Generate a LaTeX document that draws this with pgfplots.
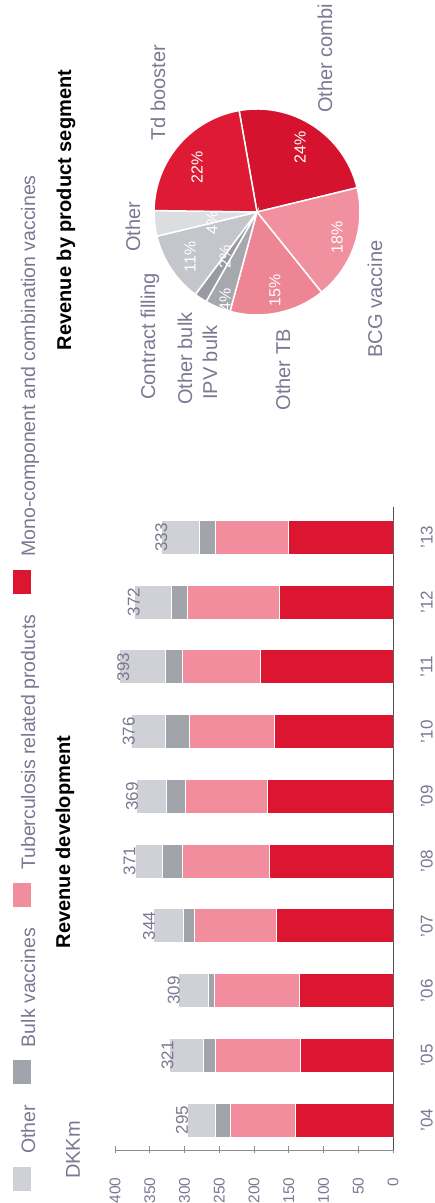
\documentclass[border=0pt]{standalone}
\usepackage{fontspec}
\setmainfont{Liberation Sans}
\usepackage{graphicx}
\usepackage{pgfplots}
\pgfplotsset{compat=1.18}
\usepackage{pgfplotstable}

\definecolor{cOther}{HTML}{D0D1D6}
\definecolor{cBulk}{HTML}{A2A4AB}
\definecolor{cTB}{HTML}{F28D9D}
\definecolor{cMono}{HTML}{DC1530}
\definecolor{labelc}{HTML}{7A7893}
% pie colours
\definecolor{pCombi}{HTML}{D5132E}
\definecolor{pTd}{HTML}{DE1A34}
\definecolor{pBCG}{HTML}{F1919F}
\definecolor{pOTB}{HTML}{EE8595}
\definecolor{pIPV}{HTML}{A7A8AE}
\definecolor{pOBulk}{HTML}{9A9BA2}
\definecolor{pFill}{HTML}{C5C6CB}
\definecolor{pOther}{HTML}{DCDDE1}

\newcommand\fs{\fontsize{20}{24}\selectfont}
\newcommand\fl{\fontsize{19.5}{23}\selectfont}
\newcommand\fn{\fontsize{17}{20}\selectfont}
\newcommand\ft{\fontsize{15.5}{18}\selectfont}
\newcommand\fp{\fontsize{16}{19}\selectfont}

% revenue, DKKm
\pgfplotstableread{
x mono tb  bulk other total
0 141  93  22   39    295
1 133  123 16   49    321
2 135  122 9    43    309
3 167  118 17   42    344
4 177  126 28   40    371
5 180  119 27   43    369
6 171  122 35   48    376
7 191  112 24   66    393
8 164  131 23   54    372
9 150  106 22   55    333
}\revenue

\begin{document}
\rotatebox{90}{%
\begin{tikzpicture}
\begin{axis}[
  at={(53pt,-393pt)}, anchor=south west,
  scale only axis, width=643pt, height=278pt,
  ybar stacked, bar width=34pt,
  xmin=-0.46, xmax=9.47, ymin=0, ymax=400,
  axis x line*=bottom, axis y line*=left,
  x axis line style={draw=black!70, line width=1pt},
  y axis line style={draw=black!45, line width=0.8pt},
  xtick=data,
  xticklabels={'04,'05,'06,'07,'08,'09,'10,'11,'12,'13},
  ytick={0,50,...,400},
  xtick style={draw=none},
  ytick style={draw=black!45, line width=0.8pt},
  tick align=center, major tick length=7pt,
  tick label style={text=labelc},
  xticklabel style={font=\fn, inner sep=0pt, yshift=-24pt},
  yticklabel style={font=\ft, inner sep=0pt, xshift=-24pt},
  /pgf/number format/assume math mode=true,
  reverse legend, legend columns=4,
  legend style={at={(-0.0653,1.3705)}, anchor=north west,
    draw=none, fill=none, inner sep=0pt, font=\fl, text=labelc,
    nodes={inner sep=0pt},
    /tikz/every odd column/.append style={column sep=12pt},
    /tikz/every even column/.append style={column sep=20pt}},
  legend image code/.code={\fill[#1] (0pt,-3pt) rectangle (25pt,16pt);},
]
\addplot[fill=cMono, draw=white, line width=1pt] table[x=x, y=mono]{\revenue};
\addlegendentry{Mono-component and combination vaccines}
\addplot[fill=cTB, draw=white, line width=1pt] table[x=x, y=tb]{\revenue};
\addlegendentry{Tuberculosis related products}
\addplot[fill=cBulk, draw=white, line width=1pt] table[x=x, y=bulk]{\revenue};
\addlegendentry{Bulk vaccines}
\addplot[fill=cOther, draw=white, line width=1pt,
  nodes near coords, point meta=\thisrow{total},
  nodes near coords style={font=\fn, text=labelc, anchor=south, inner sep=0pt, yshift=13pt}]
  table[x=x, y=other]{\revenue};
\addlegendentry{Other}
\end{axis}

% pie: shares in percent, clockwise from 10 degrees
\begin{axis}[
  at={(991pt,-257pt)}, anchor=center,
  hide axis, scale only axis, width=206pt, height=206pt,
  xmin=-1, xmax=1, ymin=-1, ymax=1, clip=false,
]
\fill[pCombi, draw=white, line width=1.5pt] (axis cs:0,0) -- ++(10:103pt) arc[start angle=10, end angle={10-3.6*24}, radius=103pt] -- cycle;
\fill[pBCG, draw=white, line width=1.5pt] (axis cs:0,0) -- ++({10-3.6*24}:103pt) arc[start angle={10-3.6*24}, end angle={10-3.6*42}, radius=103pt] -- cycle;
\fill[pOTB, draw=white, line width=1.5pt] (axis cs:0,0) -- ++({10-3.6*42}:103pt) arc[start angle={10-3.6*42}, end angle={10-3.6*57}, radius=103pt] -- cycle;
\fill[pIPV, draw=white, line width=1.5pt] (axis cs:0,0) -- ++({10-3.6*57}:103pt) arc[start angle={10-3.6*57}, end angle={10-3.6*61}, radius=103pt] -- cycle;
\fill[pOBulk, draw=white, line width=1.5pt] (axis cs:0,0) -- ++({10-3.6*61}:103pt) arc[start angle={10-3.6*61}, end angle={10-3.6*63}, radius=103pt] -- cycle;
\fill[pFill, draw=white, line width=1.5pt] (axis cs:0,0) -- ++({10-3.6*63}:103pt) arc[start angle={10-3.6*63}, end angle={10-3.6*74}, radius=103pt] -- cycle;
\fill[pOther, draw=white, line width=1.5pt] (axis cs:0,0) -- ++({10-3.6*74}:103pt) arc[start angle={10-3.6*74}, end angle={10-3.6*78}, radius=103pt] -- cycle;
\fill[pTd, draw=white, line width=1.5pt] (axis cs:0,0) -- ++({10-3.6*78}:103pt) arc[start angle={10-3.6*78}, end angle={10-3.6*100}, radius=103pt] -- cycle;
\end{axis}

\begin{scope}[every node/.style={font=\fp, text=white, inner sep=0pt}]
\node at (1036pt,-197pt) {22\%};
\node at (1056pt,-300pt) {24\%};
\node at (966pt,-337pt) {18\%};
\node at (913pt,-275pt) {15\%};
\node at (903pt,-225pt) {4\%};
\node at (946pt,-225pt) {2\%};
\node at (946pt,-190pt) {11\%};
\node at (980pt,-212pt) {4\%};
\end{scope}

\begin{scope}[every node/.style={font=\fs, text=labelc, inner sep=0pt}]
\node at (53pt,-73pt) {DKKm};
\node at (976pt,-133pt) {Other};
\node at (1110pt,-158pt) {Td booster};
\node[anchor=west] at (803pt,-150pt) {Contract filling};
\node[anchor=west] at (798pt,-185pt) {Other bulk};
\node[anchor=west] at (803pt,-210pt) {IPV bulk};
\node at (833pt,-283pt) {Other TB};
\node at (904pt,-375pt) {BCG vaccine};
\node[anchor=west] at (1090pt,-325pt) {Other combi};
\end{scope}
\node[font=\fs\bfseries, inner sep=0pt] at (361pt,-65pt) {Revenue development};
\node[font=\fs\bfseries, inner sep=0pt] at (993pt,-66pt) {Revenue by product segment};

\pgfresetboundingbox
\useasboundingbox (0pt,0pt) rectangle (1203pt,-435pt);
\end{tikzpicture}}
\end{document}
